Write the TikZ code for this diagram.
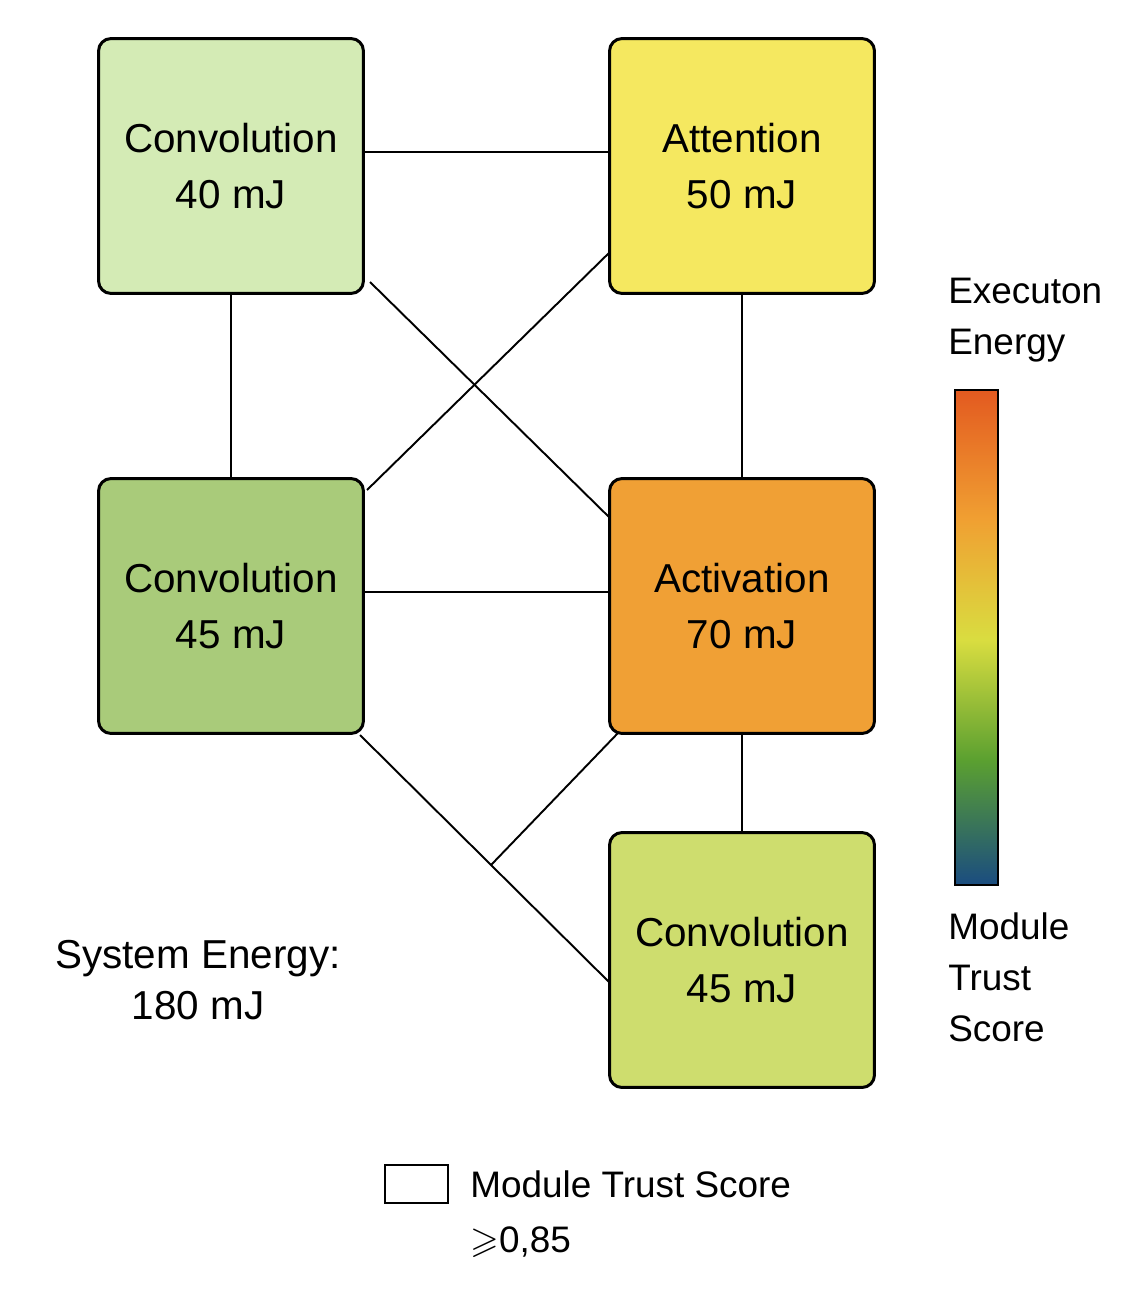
\documentclass[tikz,border=0pt]{standalone}
\usepackage{fontspec}
\setmainfont{Liberation Sans}
\usepackage{amssymb}
\usetikzlibrary{positioning}
\usetikzlibrary{calc}
\definecolor{c-conva}{RGB}{212,235,181}
\definecolor{c-attn}{RGB}{245,232,96}
\definecolor{c-convb}{RGB}{169,203,122}
\definecolor{c-act}{RGB}{240,160,53}
\definecolor{c-convc}{RGB}{206,221,110}
\definecolor{bar-red}{RGB}{227,90,32}
\definecolor{bar-orange}{RGB}{240,160,50}
\definecolor{bar-yellow}{RGB}{217,221,64}
\definecolor{bar-green}{RGB}{91,160,48}
\definecolor{bar-blue}{RGB}{26,76,128}

\begin{document}
\begin{tikzpicture}[x=0.02cm, y=-0.02cm, >=latex,
module/.style={draw, line width=1.7pt, rounded corners=0.25cm, minimum width=5.3cm, minimum height=5.1cm, align=center, font=\fontsize{23}{32}\selectfont},
link/.style={line width=1.1pt},
lbl/.style={align=left, font=\fontsize{21}{29}\selectfont}]
\useasboundingbox (0,0) rectangle (1135,1291);

% links
\coordinate (ca) at (370,282);
\coordinate (cb) at (612,520);
\coordinate (cc) at (367,490);
\coordinate (cf) at (612,250);
\coordinate (cd) at (360,735);
\coordinate (ce) at (612,985);
\coordinate (cj) at ($(cd)!0.52!(ce)$);
\coordinate (cg) at (618,733);
\draw[link] (231,152) -- (742,152);
\draw[link] (231,166) -- (231,606);
\draw[link] (742,166) -- (742,960);
\draw[link] (231,592) -- (742,592);
\draw[link] (ca) -- (cb);
\draw[link] (cc) -- (cf);
\draw[link] (cd) -- (ce);
\draw[link] (cj) -- (cg);

% modules
\node [module, fill=c-conva](conva) at (231,166) {Convolution\\40 mJ};
\node [module, fill=c-attn](attn) at (742,166) {Attention\\50 mJ};
\node [module, fill=c-convb](convb) at (231,606) {Convolution\\45 mJ};
\node [module, fill=c-act](act) at (742,606) {Activation\\70 mJ};
\node [module, fill=c-convc](convc) at (742,960) {Convolution\\45 mJ};

% colour bar
\shade[top color=bar-red, bottom color=bar-orange] (955,390) rectangle (998,520);
\shade[top color=bar-orange, bottom color=bar-yellow] (955,520) rectangle (998,640);
\shade[top color=bar-yellow, bottom color=bar-green] (955,640) rectangle (998,760);
\shade[top color=bar-green, bottom color=bar-blue] (955,760) rectangle (998,885);
\draw[line width=1.5pt] (955,390) rectangle (998,885);
\node [lbl, anchor=north west, inner sep=0](eng) at (948,278) {Executon\\Energy};
\node [lbl, anchor=north west, inner sep=0](trust) at (948,912) {Module\\Trust\\Score};

% system energy
\node [lbl, align=center, inner sep=0](sys) at (198,980) {\fontsize{23}{32}\selectfont System Energy:\\\fontsize{23}{32}\selectfont 180 mJ};

% legend
\draw[line width=1.5pt] (385,1165) rectangle (448,1203);
\node [lbl, anchor=west, inner sep=0](leg) at (470,1184) {Module Trust Score};
\node [lbl, anchor=west, inner sep=0](legv) at (470,1242) {$\geqslant$0,85};
\end{tikzpicture}
\end{document}
